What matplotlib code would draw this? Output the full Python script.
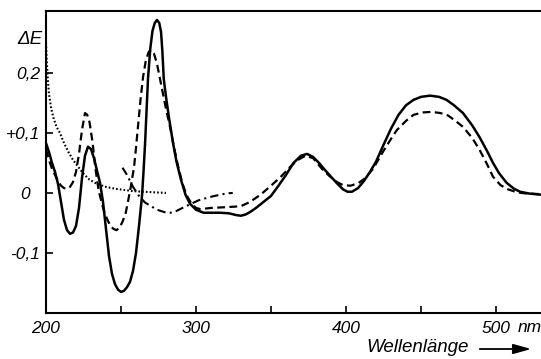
import matplotlib
matplotlib.use("Agg")
import matplotlib.pyplot as plt

# --- data (wavelength nm, delta E) ---
solid_x = [200, 202, 204, 206, 208, 210, 212, 214, 216, 218, 220, 222, 224, 226, 228, 230,
           232, 234, 236, 238, 240, 242, 244, 246, 248, 250, 252, 254, 256, 258, 260, 262,
           264, 265, 266, 267, 268, 269.5, 271, 272.5, 274, 275.5, 276.7, 277.6, 278.5, 280,
           282, 284.7, 287, 290, 293, 296, 300, 305, 310, 316, 322, 327, 330, 333, 336, 340,
           345, 350, 355, 360, 365, 370, 374, 378, 382, 386, 390, 394, 398, 401, 404, 408,
           412, 416, 420, 425, 430, 435, 440, 445, 450, 456, 462, 467, 472, 478, 484, 489,
           494, 498, 502, 507, 512, 516, 522, 530]
solid_y = [0.083, 0.068, 0.05, 0.035, 0.015, -0.015, -0.045, -0.062, -0.068, -0.066, -0.055,
           -0.025, 0.025, 0.062, 0.077, 0.073, 0.058, 0.037, 0.017, -0.015, -0.06, -0.105,
           -0.135, -0.152, -0.161, -0.165, -0.163, -0.157, -0.148, -0.13, -0.1, -0.055,
           -0.005, 0.035, 0.08, 0.135, 0.19, 0.24, 0.27, 0.283, 0.288, 0.283, 0.268, 0.235,
           0.19, 0.16, 0.125, 0.083, 0.052, 0.022, -0.003, -0.018, -0.028, -0.033, -0.033,
           -0.033, -0.034, -0.037, -0.038, -0.036, -0.032, -0.025, -0.015, -0.005, 0.012,
           0.03, 0.05, 0.062, 0.065, 0.06, 0.05, 0.038, 0.027, 0.016, 0.006, 0.002, 0.002,
           0.008, 0.02, 0.035, 0.052, 0.08, 0.107, 0.13, 0.146, 0.155, 0.16, 0.162, 0.16,
           0.155, 0.146, 0.133, 0.113, 0.093, 0.07, 0.05, 0.033, 0.017, 0.007, 0.002,
           -0.001, -0.003]

dashed_x = [200, 202, 204, 206, 208, 210, 212, 214, 216, 218, 220, 222, 224, 226, 227.5, 229,
            231, 233, 235, 237, 239, 241, 243, 245, 247, 249, 251, 253, 255, 256.5, 258.7,
            260, 261.3, 263, 264.7, 266.5, 268.5, 270, 272, 274, 276, 278, 280, 282.7, 285,
            288, 291, 294, 297, 300, 303, 310, 318, 325, 330, 336, 343, 350, 357, 363, 368,
            373, 378, 384, 389, 394, 398, 403, 408, 412, 418, 425, 430, 434, 440, 445, 451,
            457, 463, 468, 473, 478, 484, 489, 494, 498, 503, 508, 514, 520, 530]
dashed_y = [0.072, 0.055, 0.04, 0.03, 0.02, 0.012, 0.008, 0.007, 0.01, 0.018, 0.035, 0.065,
            0.105, 0.133, 0.13, 0.118, 0.085, 0.04, 0.005, -0.015, -0.033, -0.045, -0.055,
            -0.06, -0.062, -0.058, -0.048, -0.035, -0.01, 0.01, 0.043, 0.075, 0.11, 0.155,
            0.193, 0.22, 0.235, 0.238, 0.232, 0.215, 0.19, 0.165, 0.14, 0.11, 0.08, 0.045,
            0.015, -0.005, -0.018, -0.025, -0.027, -0.025, -0.024, -0.023, -0.022, -0.015,
            -0.003, 0.012, 0.028, 0.044, 0.055, 0.062, 0.058, 0.04, 0.028, 0.018, 0.013,
            0.012, 0.016, 0.023, 0.04, 0.07, 0.09, 0.105, 0.12, 0.13, 0.134, 0.135, 0.133,
            0.129, 0.12, 0.11, 0.092, 0.072, 0.048, 0.027, 0.013, 0.006, 0.001, -0.001, -0.002]

dotted_x = [200, 200.5, 201.2, 202, 203.5, 205, 207, 209.3, 212, 215, 218, 221, 225, 229,
            234, 240, 246, 252, 258, 265, 272, 280]
dotted_y = [0.25, 0.22, 0.19, 0.165, 0.14, 0.125, 0.11, 0.1, 0.083, 0.068, 0.055, 0.045,
            0.032, 0.022, 0.015, 0.01, 0.007, 0.005, 0.003, 0.002, 0.001, 0.0]

dashdot_x = [251, 254, 258, 262, 266, 270, 274, 279, 283, 287, 291, 296, 302, 309, 316, 320, 324.5]
dashdot_y = [0.042, 0.03, 0.01, -0.005, -0.016, -0.022, -0.028, -0.032, -0.033, -0.03,
             -0.025, -0.019, -0.012, -0.007, -0.003, -0.001, 0.0]

yticks = [-0.1, 0, 0.1, 0.2]
ytick_labels = ["-0,1", "0\u2007", "+0,1", "0,2"]
xticks = [200, 250, 300, 350, 400, 450, 500]
xtick_labels = ["200", "", "300", "", "400", "", "500"]

W, H = 541, 359
plt.rcParams['font.family'] = ['Liberation Sans', 'DejaVu Sans']
plt.rcParams['font.style'] = 'italic'

fig = plt.figure(figsize=(W / 100, H / 100), dpi=100)
ax = fig.add_axes([46 / W, 46 / H, (W - 46) / W, (313 - 11) / H])

ax.plot(solid_x, solid_y, color='black', lw=1.8, solid_capstyle='round')
ax.plot(dashed_x, dashed_y, color='black', lw=1.6, dashes=(3.5, 2.0))
ax.plot(dotted_x, dotted_y, color='black', lw=1.5, linestyle=(0, (0.8, 1.0)))
ax.plot(dashdot_x, dashdot_y, color='black', lw=1.5, linestyle=(0, (4, 2, 1, 2)))

ax.set_xlim(200, 530)
ax.set_ylim(-0.2, 0.303)
ax.spines['right'].set_visible(False)
for s in ['left', 'top', 'bottom']:
    ax.spines[s].set_linewidth(1.5)

ax.set_xticks(xticks)
ax.set_xticklabels(xtick_labels, fontsize=12.5)
ax.set_yticks(yticks)
ax.set_yticklabels(ytick_labels, fontsize=12.5)
ax.tick_params(axis='both', direction='in', length=5, width=1.2)
ax.tick_params(axis='x', pad=6)
ax.tick_params(axis='y', pad=4)

def px(x, y):
    return (x / W, 1 - y / H)

fig.text(*px(29.5, 39), "ΔE", fontsize=13.5, ha='center', va='center')
fig.text(*px(530, 328), "nm", fontsize=12.5, ha='center', va='center')
fig.text(*px(418, 348), "Wellenlänge", fontsize=13.5, ha='center', va='center')
fig.add_artist(matplotlib.patches.FancyArrowPatch(
    px(477, 349), px(534, 349), transform=fig.transFigure,
    arrowstyle='-|>,head_length=0.9,head_width=0.25', lw=1.3, color='black',
    mutation_scale=12))

fig.savefig("out.png", dpi=100)
